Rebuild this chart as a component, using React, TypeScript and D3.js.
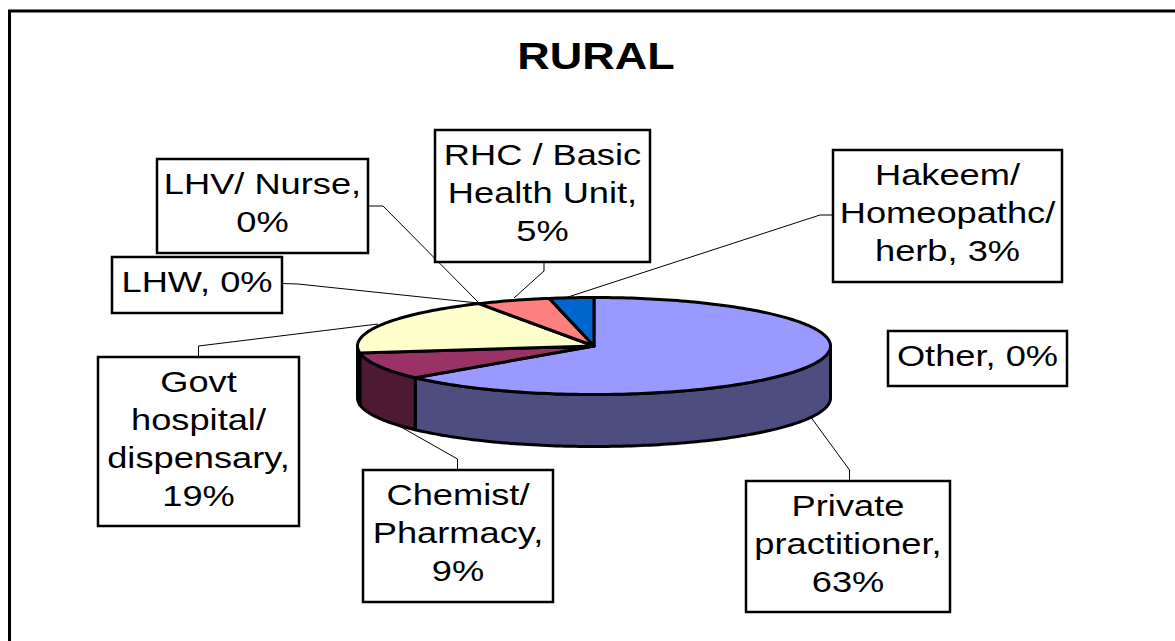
import React from "react";
import * as d3 from "d3";

const categories = ["Private practitioner", "Chemist/ Pharmacy", "Govt hospital/ dispensary", "LHW", "LHV/ Nurse", "RHC / Basic Health Unit", "Hakeem/ Homeopathc/ herb", "Other"];
const values = [63, 9, 19, 0, 0, 5, 3, 0];
const topColors = ["#9999FF", "#993366", "#FFFFCC", "#660066", "#FF8080", "#FF8080", "#0066CC", "#CCCCFF"];
const sideColors = ["#4D4D80", "#4D1933", "#808066", "#330033", "#804040", "#804040", "#003366", "#666680"];
const labelLines = [
  ["Private", "practitioner,", "63%"],
  ["Chemist/", "Pharmacy,", "9%"],
  ["Govt", "hospital/", "dispensary,", "19%"],
  ["LHW, 0%"],
  ["LHV/ Nurse,", "0%"],
  ["RHC / Basic", "Health Unit,", "5%"],
  ["Hakeem/", "Homeopathc/", "herb, 3%"],
  ["Other, 0%"],
];
// [x0, y0, x1, y1] of each label box
const boxes = [
  [746, 481, 950, 612],
  [363, 470, 553, 602],
  [98, 357, 299, 526],
  [112, 257, 282, 313],
  [157, 159, 368, 253],
  [435, 130, 650, 262],
  [833, 150, 1062, 282],
  [888, 331, 1067, 386],
];
const leaders: number[][][] = [
  [[849.5, 481], [849.5, 470], [810, 416]],
  [[457.5, 470], [457.5, 459], [394, 423]],
  [[198.5, 357], [198.5, 346], [378, 324]],
  [[282, 283.5], [298, 284], [478, 303]],
  [[368, 206], [383, 206], [479, 303]],
  [[544, 262], [544, 271], [514, 298]],
  [[833, 215], [820, 215], [568, 297]],
  [],
];

const W = 1175;
const H = 641;
const cx = 594;
const cy = 346;
const rx = 236.5;
const ry = 48.5;
const depth = 52;
const FONT = "'Liberation Sans', Arial, sans-serif";

const px = (a: number) => cx + rx * Math.sin(a);
const py = (a: number) => cy - ry * Math.cos(a);
const line = d3.line<number[]>().x((d) => d[0]).y((d) => d[1]);

const arcPts = (a0: number, a1: number, dy = 0) => {
  const n = Math.max(2, Math.ceil((a1 - a0) / 0.02));
  return d3.range(n + 1).map((i) => {
    const a = a0 + ((a1 - a0) * i) / n;
    return [px(a), py(a) + dy];
  });
};

export default function App() {
  const slices = d3.pie<number>().sort(null).startAngle(0).endAngle(2 * Math.PI)(values)
    .map((s, i) => ({ ...s, i }))
    .filter((s) => s.value > 0);
  const sideStart = Math.PI / 2;
  const sideEnd = (3 * Math.PI) / 2;
  const sides = slices
    .map((s) => ({ i: s.i, a0: Math.max(s.startAngle, sideStart), a1: Math.min(s.endAngle, sideEnd) }))
    .filter((s) => s.a1 > s.a0);

  return (
    <svg width={W} height={H} viewBox={`0 0 ${W} ${H}`} style={{ position: "absolute", left: 0, top: 0, background: "#fff" }} fontFamily={FONT}>
      <path d={`M9.5,${H}V11H${W}`} fill="none" stroke="#000" strokeWidth={3} />
      <text transform="translate(596,69) scale(1.25,1)" textAnchor="middle" fontSize={36} fontWeight="bold" fill="#000">RURAL</text>

      {leaders.map((l, i) => l.length > 0 && (
        <path key={i} d={line(l) ?? ""} fill="none" stroke="#000" strokeWidth={1} />
      ))}

      {sides.map((s) => {
        const pts = [...arcPts(s.a0, s.a1, 0), ...arcPts(s.a0, s.a1, depth).reverse()];
        return <path key={s.i} d={(line(pts) ?? "") + "Z"} fill={sideColors[s.i]} stroke="#000" strokeWidth={3} strokeLinejoin="round" />;
      })}
      {slices.map((s) => {
        const pts = [[cx, cy], ...arcPts(s.startAngle, s.endAngle)];
        return <path key={s.i} d={(line(pts) ?? "") + "Z"} fill={topColors[s.i]} stroke="#000" strokeWidth={3} strokeLinejoin="round" />;
      })}

      {categories.map((c, i) => {
        const [x0, y0, x1, y1] = boxes[i];
        const mx = (x0 + x1) / 2;
        const my = (y0 + y1) / 2;
        const lines = labelLines[i];
        return (
          <g key={c}>
            <rect x={x0} y={y0} width={x1 - x0} height={y1 - y0} fill="#fff" stroke="#000" strokeWidth={2.5} />
            {lines.map((t, j) => (
              <text key={j} transform={`translate(${mx},${my + 7 + (j - (lines.length - 1) / 2) * 38}) scale(1.25,1)`} textAnchor="middle" fontSize={29} fill="#000">{t}</text>
            ))}
          </g>
        );
      })}
    </svg>
  );
}
